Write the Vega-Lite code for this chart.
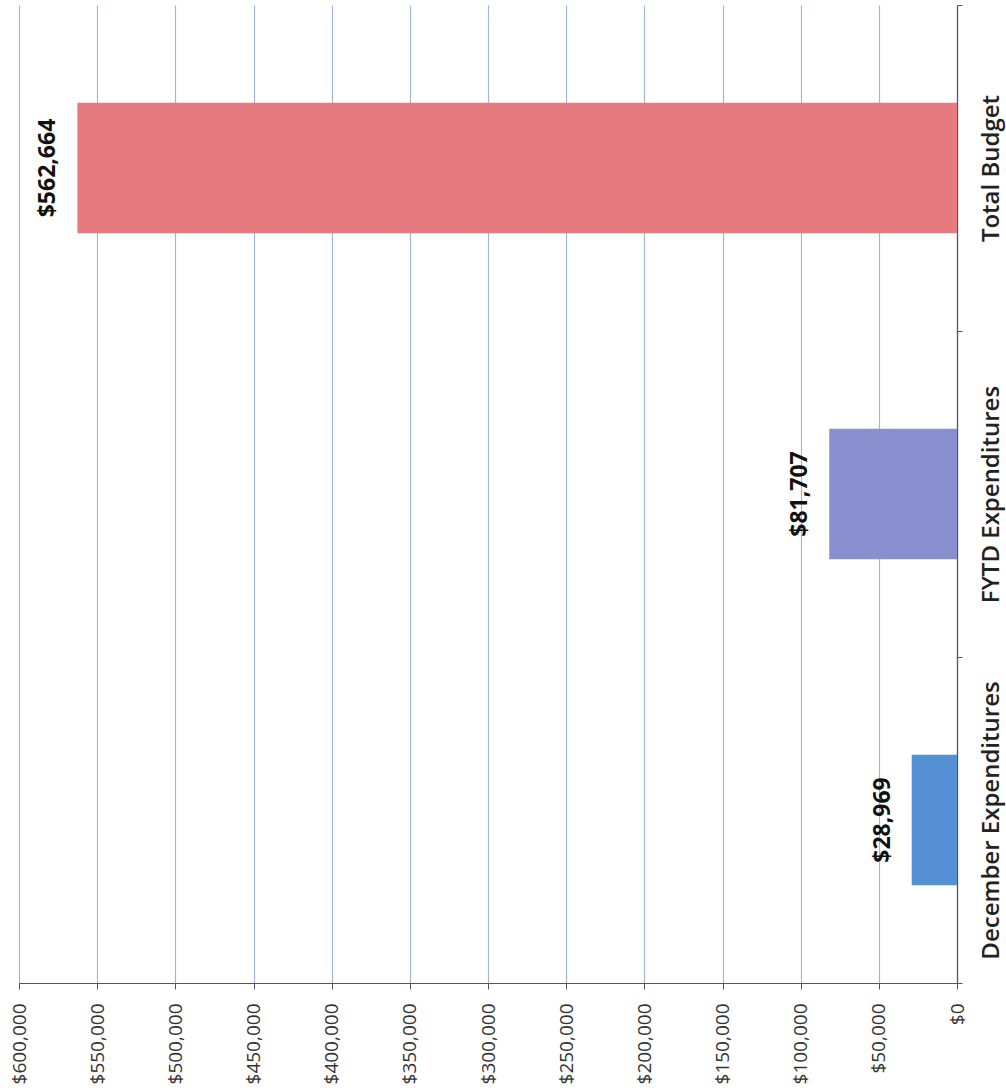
{
  "$schema": "https://vega.github.io/schema/vega-lite/v6.json",
  "autosize": {"type": "none"},
  "width": 938,
  "height": 978,
  "padding": {"left": 19, "top": 5, "right": 49, "bottom": 109},
  "background": "white",
  "config": {
    "view": {"stroke": null},
    "font": "Open Sans"
  },
  "data": {
    "values": [
      {"category": "Total Budget", "amount": 562664, "label": "$562,664"},
      {"category": "FYTD Expenditures", "amount": 81707, "label": "$81,707"},
      {"category": "December Expenditures", "amount": 28969, "label": "$28,969"}
    ]
  },
  "encoding": {
    "y": {
      "field": "category",
      "type": "nominal",
      "sort": ["Total Budget", "FYTD Expenditures", "December Expenditures"],
      "scale": {"paddingInner": 0, "paddingOuter": 0},
      "axis": {
        "orient": "right",
        "title": null,
        "labelAngle": -90,
        "labelAlign": "center",
        "labelBaseline": "top",
        "labelPadding": 17,
        "labelLimit": 0,
        "labelFont": "Open Sans",
        "labelFontSize": 24,
        "labelFontWeight": 600,
        "labelColor": "#222222",
        "tickBand": "extent",
        "tickSize": 5,
        "tickColor": "#555555",
        "domainColor": "#555555",
        "domainWidth": 1.2,
        "grid": false
      }
    },
    "x": {
      "field": "amount",
      "type": "quantitative",
      "scale": {"domain": [0, 600000], "reverse": true, "nice": false, "zero": true},
      "axis": {
        "orient": "bottom",
        "title": null,
        "values": [0, 50000, 100000, 150000, 200000, 250000, 300000, 350000, 400000, 450000, 500000, 550000, 600000],
        "format": "$,.0f",
        "labelAngle": -90,
        "labelAlign": "right",
        "labelBaseline": "middle",
        "labelPadding": 14,
        "labelLimit": 0,
        "labelFont": "Open Sans",
        "labelFontSize": 19,
        "labelColor": "#333333",
        "tickSize": 6,
        "tickColor": "#555555",
        "domainColor": "#555555",
        "domainWidth": 1.2,
        "grid": true,
        "gridColor": "#9DB8DC",
        "gridWidth": 1.2
      }
    }
  },
  "layer": [
    {
      "mark": {"type": "bar", "height": {"band": 0.4}},
      "encoding": {
        "color": {
          "field": "category",
          "type": "nominal",
          "scale": {
            "domain": ["Total Budget", "FYTD Expenditures", "December Expenditures"],
            "range": ["#E67A7F", "#8A8FD0", "#5590D4"]
          },
          "legend": null
        }
      }
    },
    {
      "mark": {
        "type": "text",
        "angle": -90,
        "align": "center",
        "baseline": "middle",
        "dy": -29,
        "font": "Open Sans",
        "fontSize": 23,
        "fontWeight": "bold",
        "color": "#111111"
      },
      "encoding": {
        "text": {"field": "label"}
      }
    }
  ]
}
